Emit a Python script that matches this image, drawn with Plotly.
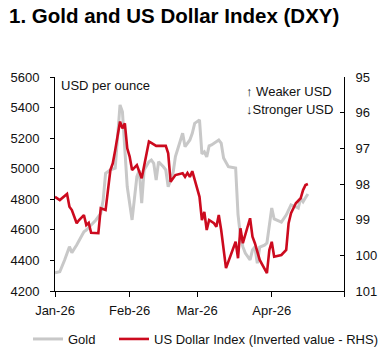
import plotly.graph_objects as go

# ---- data ----
gold_dates = ["2026-01-01", "2026-01-03", "2026-01-05", "2026-01-07", "2026-01-08", "2026-01-10",
              "2026-01-13", "2026-01-14", "2026-01-16", "2026-01-18", "2026-01-20", "2026-01-21",
              "2026-01-22", "2026-01-24", "2026-01-26", "2026-01-28", "2026-01-29", "2026-01-31",
              "2026-02-02", "2026-02-04", "2026-02-05", "2026-02-06", "2026-02-07", "2026-02-09",
              "2026-02-10", "2026-02-11", "2026-02-12", "2026-02-13", "2026-02-15", "2026-02-16",
              "2026-02-17", "2026-02-19", "2026-02-20", "2026-02-21", "2026-02-22", "2026-02-23",
              "2026-02-24", "2026-02-26", "2026-02-27", "2026-02-28", "2026-03-01", "2026-03-02",
              "2026-03-03", "2026-03-04", "2026-03-05", "2026-03-06", "2026-03-07", "2026-03-09",
              "2026-03-10", "2026-03-11", "2026-03-12", "2026-03-14", "2026-03-17", "2026-03-18",
              "2026-03-19", "2026-03-20", "2026-03-21", "2026-03-23", "2026-03-24", "2026-03-25",
              "2026-03-26", "2026-03-27", "2026-03-29", "2026-03-30", "2026-04-01", "2026-04-02",
              "2026-04-04", "2026-04-05", "2026-04-07", "2026-04-08", "2026-04-09", "2026-04-11",
              "2026-04-12", "2026-04-13", "2026-04-14", "2026-04-15", "2026-04-16"]
gold_values = [4320, 4326, 4403, 4490, 4451, 4501,
               4588, 4599, 4632, 4665, 4708, 4795,
               4970, 4992, 5003, 5417, 5373, 4882,
               4665, 4948, 4990, 4774, 4992, 5046,
               5057, 5035, 4926, 5046, 5013, 4992,
               4882, 4970, 5079, 5134, 5188, 5232,
               5144, 5188, 5232, 5297, 5308, 5319,
               5097, 5110, 5077, 5149, 5155, 5175,
               5188, 5168, 5070, 5013, 5005, 4700,
               4560, 4490, 4448, 4403, 4468, 4488,
               4381, 4488, 4500, 4514, 4743, 4671,
               4658, 4651, 4697, 4730, 4763, 4751,
               4743, 4806, 4784, 4810, 4835]

dxy_dates = ["2026-01-01", "2026-01-03", "2026-01-06", "2026-01-07", "2026-01-08", "2026-01-10",
             "2026-01-11", "2026-01-13", "2026-01-14", "2026-01-15", "2026-01-16", "2026-01-19",
             "2026-01-20", "2026-01-22", "2026-01-24", "2026-01-25", "2026-01-26", "2026-01-28",
             "2026-01-29", "2026-01-30", "2026-01-31", "2026-02-01", "2026-02-02", "2026-02-04",
             "2026-02-06", "2026-02-09", "2026-02-10", "2026-02-12", "2026-02-16", "2026-02-17",
             "2026-02-18", "2026-02-20", "2026-02-23", "2026-02-24", "2026-02-25", "2026-02-26",
             "2026-02-27", "2026-02-28", "2026-03-02", "2026-03-03", "2026-03-04", "2026-03-05",
             "2026-03-06", "2026-03-08", "2026-03-09", "2026-03-10", "2026-03-11", "2026-03-13",
             "2026-03-16", "2026-03-17", "2026-03-18", "2026-03-19", "2026-03-20", "2026-03-22",
             "2026-03-23", "2026-03-24", "2026-03-25", "2026-03-27", "2026-03-29", "2026-03-30",
             "2026-03-31", "2026-04-01", "2026-04-02", "2026-04-05", "2026-04-07", "2026-04-08",
             "2026-04-09", "2026-04-11", "2026-04-13", "2026-04-14", "2026-04-15", "2026-04-16"]
dxy_values = [98.36, 98.45, 98.28, 98.64, 98.73, 99.10,
              99.01, 98.87, 99.15, 99.09, 99.37, 99.38,
              98.68, 98.73, 97.61, 97.42, 97.05, 96.25,
              96.44, 96.30, 97.00, 97.23, 97.61, 97.47,
              97.84, 96.81, 96.85, 96.93, 96.93, 97.14,
              97.94, 97.75, 97.70, 97.80, 97.69, 97.80,
              97.64, 97.89, 98.36, 99.01, 98.78, 99.29,
              99.01, 99.10, 99.20, 98.87, 99.29, 100.36,
              99.76, 99.62, 100.08, 99.24, 99.66, 99.20,
              98.96, 99.48, 99.66, 100.13, 100.36, 100.50,
              99.85, 99.62, 100.04, 99.99, 99.85, 99.10,
              98.82, 98.54, 98.40, 98.17, 98.03, 98.00]

x_tick_vals = ["2026-01-01", "2026-02-01", "2026-03-01", "2026-04-01", "2026-05-01"]
x_tick_text = ["Jan-26", "Feb-26", "Mar-26", "Apr-26", ""]
gold_ticks = [4200, 4400, 4600, 4800, 5000, 5200, 5400, 5600]
dxy_ticks = [95, 96, 97, 98, 99, 100, 101]

FONT = "Arial, Liberation Sans, sans-serif"
W, H = 387, 357
L, R, T, B = 55, 43, 77, 66
PW, PH = W - L - R, H - T - B


def px_x(px):
    return (px - L) / PW


def px_y(py):
    return (H - B - py) / PH


fig = go.Figure()
fig.add_trace(go.Scatter(x=gold_dates, y=gold_values, name="Gold", mode="lines",
                         line=dict(color="#C8C8C8", width=3), legend="legend2"))
fig.add_trace(go.Scatter(x=dxy_dates, y=dxy_values, name="US Dollar Index (Inverted value - RHS)",
                         mode="lines", yaxis="y2", line=dict(color="#CC0A1E", width=2.6),
                         legend="legend"))

legend_common = dict(orientation="h", xanchor="left", yanchor="top", font=dict(size=13),
                     itemwidth=30, bgcolor="rgba(0,0,0,0)", borderwidth=0, visible=True)

fig.update_layout(
    width=W, height=H, autosize=False,
    margin=dict(l=L, r=R, t=T, b=B, pad=0, autoexpand=False),
    paper_bgcolor="white", plot_bgcolor="white",
    font=dict(family=FONT, size=13, color="#111111"),
    showlegend=True,
    xaxis=dict(type="date", range=["2026-01-01", "2026-05-01"], tickvals=x_tick_vals,
               ticktext=x_tick_text, showgrid=False, zeroline=False, showline=True,
               linecolor="black", linewidth=1, ticks="outside", ticklen=5, tickcolor="black",
               tickfont=dict(size=13), ticklabelstandoff=2),
    yaxis=dict(range=[4200, 5600], tickvals=gold_ticks, showgrid=False, zeroline=False,
               showline=True, linecolor="black", linewidth=1, ticks="outside", ticklen=4,
               tickcolor="black", tickfont=dict(size=13), ticklabelstandoff=8),
    yaxis2=dict(range=[101, 95], tickvals=dxy_ticks, overlaying="y", side="right",
                showgrid=False, zeroline=False, showline=True, linecolor="black", linewidth=1,
                ticks="inside", ticklen=4, tickcolor="black", tickfont=dict(size=13),
                ticklabelstandoff=8),
    legend=dict(x=px_x(114), y=px_y(324), **legend_common),
    legend2=dict(x=px_x(28), y=px_y(324), **legend_common),
    annotations=[
        dict(text="<b>1. Gold and US Dollar Index (DXY)</b>", xref="paper", yref="paper",
             x=px_x(7), y=px_y(16), xanchor="left", yanchor="middle", showarrow=False,
             font=dict(family=FONT, size=20.5, color="#000000")),
        dict(text="USD per ounce", xref="paper", yref="paper", x=px_x(59), y=px_y(85),
             xanchor="left", yanchor="middle", showarrow=False, font=dict(size=13)),
        dict(text="↑ Weaker USD", xref="paper", yref="paper", x=px_x(244), y=px_y(91),
             xanchor="left", yanchor="middle", showarrow=False, font=dict(size=13)),
        dict(text="↓Stronger USD", xref="paper", yref="paper", x=px_x(244), y=px_y(109),
             xanchor="left", yanchor="middle", showarrow=False, font=dict(size=13)),
    ],
)

fig.write_html("out.html", config={"displayModeBar": False},
               post_script="document.body.style.margin='0';")
